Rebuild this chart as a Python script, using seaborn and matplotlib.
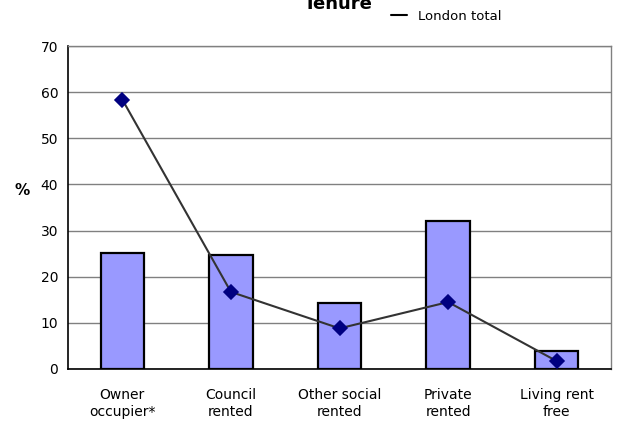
import matplotlib
matplotlib.use("Agg")
import matplotlib.pyplot as plt
import matplotlib.lines as mlines
import seaborn as sns

categories = ["Owner\noccupier*", "Council\nrented", "Other social\nrented",
              "Private\nrented", "Living rent\nfree"]
area_pct = [25.1, 24.8, 14.3, 32.1, 4.0]
london_total = [58.4, 16.7, 8.8, 14.5, 1.7]
y_ticks = [0, 10, 20, 30, 40, 50, 60, 70]

sns.set_style("white")
plt.rcParams["font.family"] = ["DejaVu Sans"]
plt.rcParams["text.color"] = "black"
plt.rcParams["axes.labelcolor"] = "black"
plt.rcParams["xtick.color"] = "black"
plt.rcParams["ytick.color"] = "black"

fig = plt.figure(figsize=(6.21, 4.28), dpi=100)
ax = fig.add_axes([0.1095, 0.1379, 0.8745, 0.7546])

sns.barplot(x=categories, y=area_pct, color="#9999FF", saturation=1,
            edgecolor="black", linewidth=1.6, width=0.4, ax=ax, zorder=2)

sns.pointplot(x=categories, y=london_total, color="#333333", marker="D",
              markersize=7, linewidth=1.5, markerfacecolor="#000080",
              markeredgecolor="#000080", ax=ax, zorder=3)

ax.set_ylim(0, 70)
ax.set_xlim(-0.5, 4.5)
ax.set_yticks(y_ticks)
ax.set_yticklabels([str(t) for t in y_ticks], fontsize=10)
ax.set_xticks(range(len(categories)))
ax.set_xticklabels(categories, fontsize=10)
ax.tick_params(axis="x", which="major", length=0, pad=14)
ax.set_xticks([i - 0.5 for i in range(len(categories) + 1)], minor=True)
ax.tick_params(axis="x", which="minor", length=6, direction="out", color="black")
ax.tick_params(axis="y", length=5, direction="out", color="black", pad=2)

ax.yaxis.grid(True, color="#808080", linewidth=1)
ax.set_axisbelow(True)
ax.set_xlabel("")
ax.set_ylabel("%", rotation=0, fontsize=11, fontweight="bold", labelpad=18)
ax.yaxis.set_label_coords(-0.085, 0.53)

for side in ["left", "bottom"]:
    ax.spines[side].set_color("black")
    ax.spines[side].set_linewidth(1.2)
for side in ["top", "right"]:
    ax.spines[side].set_color("#808080")
    ax.spines[side].set_linewidth(1)

# title sits partly above the figure edge, as in the original export
fig.text(0.545, 0.979, "Tenure", ha="center", va="baseline",
         fontsize=13, fontweight="bold")

handle = mlines.Line2D([], [], color="black", linewidth=1.5, label="London total")
fig.legend(handles=[handle], loc="center left", bbox_to_anchor=(0.61, 0.962),
           frameon=False, fontsize=9.5, handlelength=1.2, handletextpad=0.9)

fig.savefig("out.png", dpi=100)
